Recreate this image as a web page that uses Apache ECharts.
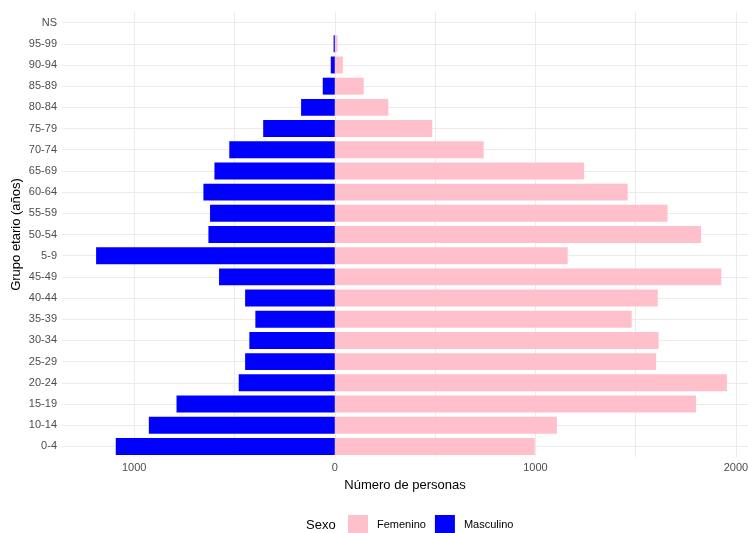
<!DOCTYPE html>
<html>
<head>
<meta charset="utf-8">
<script src="https://cdn.jsdelivr.net/npm/echarts@6/dist/echarts.min.js"></script>
<style>html,body{margin:0;padding:0;background:#fff;overflow:hidden}#c{width:748px;height:533px}</style>
</head>
<body>
<div id="c"></div>
<script>
var categories = ['0-4','10-14','15-19','20-24','25-29','30-34','35-39','40-44','45-49','5-9','50-54','55-59','60-64','65-69','70-74','75-79','80-84','85-89','90-94','95-99','NS'];
var femenino = [997,1107,1801,1955,1602,1614,1480,1610,1927,1161,1826,1659,1460,1243,742,486,267,144,40,13,0];
var masculino = [1092,927,789,479,447,426,396,447,577,1190,630,622,655,600,526,357,168,60,20,6,0];
var xTicks = [-1000,0,1000,2000];
var xGrid = [-1000,-500,0,500,1000,1500,2000];

var FONT = 'Liberation Sans, Arial, sans-serif';
var chart = echarts.init(document.getElementById('c'), null, {renderer:'canvas', width:748, height:533});
var gridLine = {color:'#EBEBEB', width:1, type:'solid'};

chart.setOption({
  animation:false,
  backgroundColor:'#fff',
  grid:{left:62, right:0, top:12, bottom:76, containLabel:false, outerBoundsMode:'none'},
  graphic:[{type:'text', left:306, top:519, style:{text:'Sexo', font:'13px '+FONT, fill:'#000'}}],
  legend:{
    data:['Femenino','Masculino'],
    left:348, top:515, padding:0, itemWidth:20, itemHeight:20, itemGap:9,
    textStyle:{fontFamily:FONT, fontSize:11, color:'#000', padding:[0,0,0,4]},
    icon:'rect'
  },
  xAxis:{
    type:'value', min:-1360, max:2060, interval:10,
    name:'Número de personas', nameLocation:'middle', nameGap:22, nameMoveOverlap:false,
    nameTextStyle:{fontFamily:FONT, fontSize:13, color:'#000'},
    axisLine:{show:false}, axisTick:{show:false}, splitLine:{show:false},
    axisLabel:{customValues:xTicks, formatter:function(v){return String(Math.abs(v));}, fontFamily:FONT, fontSize:11, color:'#4D4D4D', margin:5, hideOverlap:false}
  },
  yAxis:{
    type:'category', data:categories,
    name:'Grupo etario (años)', nameLocation:'middle', nameGap:39, nameRotate:90, nameMoveOverlap:false,
    nameTextStyle:{fontFamily:FONT, fontSize:13, color:'#000'},
    axisLine:{show:false}, axisTick:{show:false}, splitLine:{show:false},
    axisLabel:{fontFamily:FONT, fontSize:11, color:'#4D4D4D', margin:5}
  },
  series:[
    {type:'line', data:[], z:0, silent:true,
     markLine:{z:0, silent:true, symbol:['none','none'], label:{show:false}, lineStyle:gridLine, emphasis:{disabled:true},
       data: xGrid.map(function(v){return {xAxis:v};}).concat(categories.map(function(c){return {yAxis:c};}))}
    },
    {name:'Femenino', type:'bar', z:5, data:femenino, barWidth:'80%', barGap:'-100%',
     itemStyle:{color:'#FFC0CB'}},
    {name:'Masculino', type:'bar', z:5, data:masculino.map(function(v){return -v;}), barWidth:'80%', barGap:'-100%',
     itemStyle:{color:'#0000FF'}}
  ]
});
</script>
</body>
</html>
